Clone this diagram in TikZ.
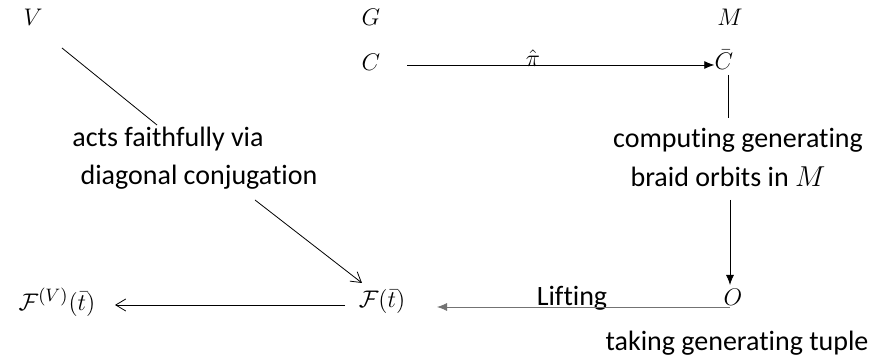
\documentclass[tikz,border=0pt]{standalone}
\usepackage{fontspec}
\setmainfont{Carlito}[Ligatures=NoCommon]
\usepackage{amsmath,amssymb}
\usepackage{tikz}
\usetikzlibrary{arrows,arrows.meta,positioning}

\begin{document}
\begin{tikzpicture}[x=0.5pt,y=-0.5pt,
    txt/.style={inner sep=0pt, font=\fontsize{14}{16}\selectfont},
    sym/.style={inner sep=0pt, font=\fontsize{13}{15}\selectfont},
    openarr/.style={-{Straight Barb[length=5pt,width=6pt]}},
    fillarr/.style={-{Latex[length=5pt,width=4pt]}}]
    \useasboundingbox (0,0) rectangle (877,356);

    % Top row
    \node[sym] (V) at (33,17) {$V$};
    \node[sym] (G) at (371,17) {$G$};
    \node[sym] (M) at (730,17) {$M$};
    \node[sym] (C) at (371,62) {$C$};
    \node[sym] (Cb) at (724,60) {$\bar{C}$};
    \node[sym] (pi) at (533,58) {$\hat{\pi}$};

    % Bottom row
    \node[sym] (FV) at (57,302) {$\mathcal{F}^{(V)}(\bar{t})$};
    \node[sym] (F) at (382,302) {$\mathcal{F}(\bar{t})$};
    \node[sym] (O) at (733,297) {$O$};

    % Labels
    \node[txt] (acts) at (168,139) {acts faithfully via};
    \node[txt] (diag) at (199,177) {diagonal conjugation};
    \node[txt] (comp) at (738,140) {computing generating};
    \node[txt] (braid) at (728,177) {braid orbits in $M$};
    \node[txt] (lift) at (572,298) {Lifting};
    \node[txt] (take) at (737,343) {taking generating tuple};

    % Free ends of the connectors
    \coordinate (vS) at (62,48);
    \coordinate (vE) at (157,125);
    \coordinate (dS) at (255,200);
    \coordinate (dE) at (362,283);
    \coordinate (piS) at (407,65);
    \coordinate (cS) at (728,75);
    \coordinate (cE) at (728,118);
    \coordinate (bS) at (730,200);
    \coordinate (bE) at (730,285);
    \coordinate (lS) at (730,307);
    \coordinate (lE) at (437,307);
    \coordinate (fS) at (345,305);
    \coordinate (fE) at (115,305);

    % Left side
    \draw[thin] (vS) -- (vE);
    \draw[thin, openarr] (dS) -- (dE);
    \draw[thin, openarr] (fS) -- (fE);

    % Right side
    \draw[thin, fillarr] (piS) -- (piS -| Cb.west);
    \draw[thin] (cS) -- (cE);
    \draw[thin, fillarr] (bS) -- (bE);
    \draw[thin, fillarr, black!55] (lS) -- (lE);
\end{tikzpicture}
\end{document}
